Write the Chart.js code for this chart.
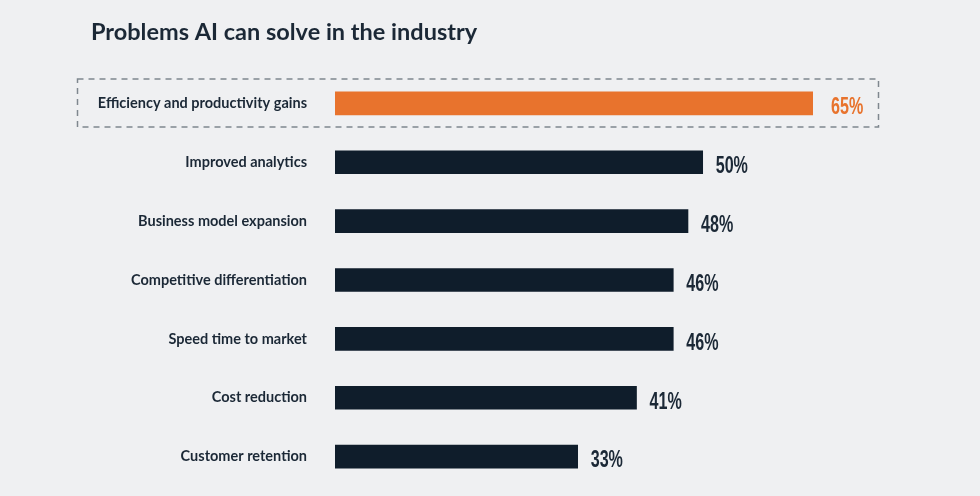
<!DOCTYPE html>
<html>
<head>
<meta charset="utf-8">
<script src="https://cdn.jsdelivr.net/npm/chart.js@4"></script>
<style>
  html, body { margin: 0; padding: 0; background: #eff0f2; }
  #wrap { position: relative; width: 980px; height: 496px; }
  canvas { display: block; }
</style>
</head>
<body>
<div id="wrap"><canvas id="c" width="980" height="496"></canvas></div>
<script>
const titleText = "Problems AI can solve in the industry";
const categories = [
  "Efficiency and productivity gains",
  "Improved analytics",
  "Business model expansion",
  "Competitive differentiation",
  "Speed time to market",
  "Cost reduction",
  "Customer retention"
];
const values = [65, 50, 48, 46, 46, 41, 33];
const valueLabels = ["65%", "50%", "48%", "46%", "46%", "41%", "33%"];
const highlightIndex = 0;

const ORANGE = "#e8732d";
const NAVY = "#0f1d2b";
const TEXT = "#1b2836";

const extras = {
  id: "extras",
  afterDatasetsDraw(chart) {
    const ctx = chart.ctx;
    const xs = chart.scales.x, ys = chart.scales.y;
    ctx.save();
    ctx.fillStyle = TEXT;
    ctx.font = "bold 23.5px Lato";
    ctx.textAlign = "left";
    ctx.textBaseline = "alphabetic";
    ctx.fillText(titleText, 91, 40);
    const yc = ys.getPixelForValue(highlightIndex);
    ctx.setLineDash([6, 5]);
    ctx.lineWidth = 1.5;
    ctx.strokeStyle = "#7f878f";
    ctx.strokeRect(77.5, yc - 24.5, 801, 48);
    ctx.setLineDash([]);
    values.forEach((v, i) => {
      const x = xs.getPixelForValue(v) + (i === highlightIndex ? 18 : 13);
      const y = ys.getPixelForValue(i) + 4.5;
      ctx.save();
      ctx.translate(x, y);
      ctx.scale(0.70, 1);
      ctx.font = "bold 23px 'Liberation Sans'";
      ctx.fillStyle = i === highlightIndex ? ORANGE : TEXT;
      ctx.textAlign = "left";
      ctx.textBaseline = "middle";
      ctx.fillText(valueLabels[i], 0, 0);
      ctx.restore();
    });
    ctx.restore();
  }
};

new Chart(document.getElementById("c"), {
  type: "bar",
  data: {
    labels: categories,
    datasets: [{
      data: values,
      backgroundColor: values.map((v, i) => i === highlightIndex ? ORANGE : NAVY),
      barThickness: 23,
      borderWidth: 0
    }]
  },
  options: {
    indexAxis: "y",
    responsive: false,
    maintainAspectRatio: false,
    animation: false,
    layout: { padding: { left: 0, right: 167, top: 74, bottom: 10 } },
    plugins: { legend: { display: false }, tooltip: { enabled: false }, title: { display: false } },
    scales: {
      x: { min: 0, max: 65, display: false },
      y: {
        grid: { display: false },
        border: { display: false },
        ticks: {
          color: TEXT,
          font: { family: "Lato", weight: "bold", size: 14.5 },
          padding: 20
        },
        afterFit(scale) {
          scale.width = 335;
          scale.paddingTop = 0;
          scale.paddingBottom = 0;
        }
      }
    }
  },
  plugins: [extras]
});
</script>
</body>
</html>
